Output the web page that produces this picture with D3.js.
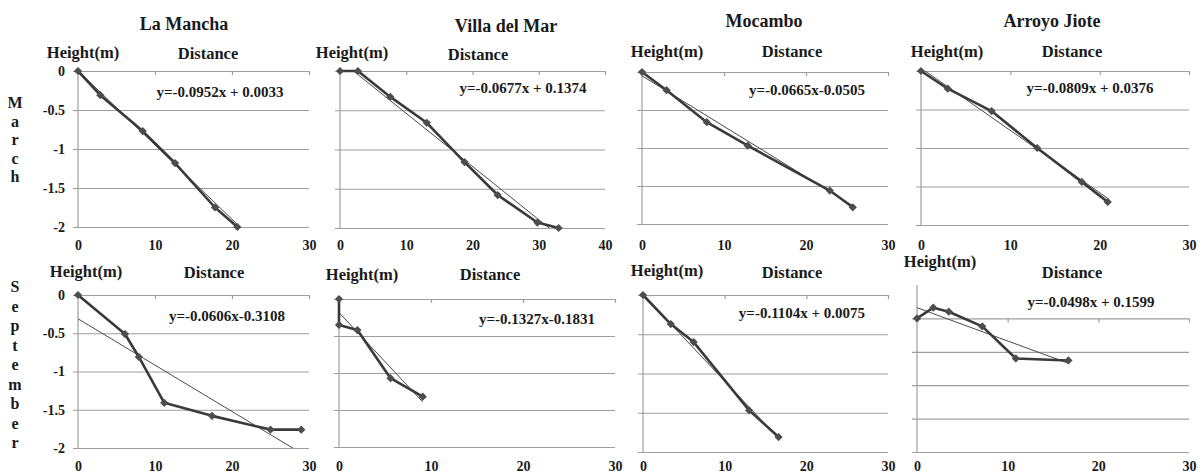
<!DOCTYPE html>
<html>
<head>
<meta charset="utf-8">
<script src="https://cdn.jsdelivr.net/npm/d3@7"></script>
<style>
body { margin: 0; background: #fff; }
svg text { font-family: "Liberation Serif", "Times New Roman", serif !important; font-weight: bold; fill: #1a1a1a; }
</style>
</head>
<body>
<svg id="chart" width="1204" height="476"></svg>
<script>
/******************************** Data ********************************/
var sites = ["La Mancha", "Villa del Mar", "Mocambo", "Arroyo Jiote"];
var months = ["March", "September"];
var yTicks = [0, -0.5, -1, -1.5, -2];
var xMaxMarch = [30, 40, 30, 30];
var xMaxSept = [30, 30, 30, 30];
var yMaxMarch = [0, 0, 0, 0];
var yMaxSept = [0, 0, 0, 0.5];

var marchDist = [
	[0, 2.9, 8.4, 12.6, 17.8, 20.7],
	[0, 2.7, 7.6, 13.1, 18.8, 23.8, 29.8, 33],
	[0, 3.0, 7.9, 12.9, 22.9, 25.7],
	[0, 3.0, 7.9, 13.0, 18.0, 20.9]
];
var marchHeight = [
	[0, -0.31, -0.77, -1.18, -1.75, -2.0],
	[0, 0, -0.33, -0.66, -1.16, -1.58, -1.93, -2.0],
	[0, -0.24, -0.66, -0.97, -1.56, -1.78],
	[0, -0.23, -0.52, -1.0, -1.44, -1.70]
];
var marchFit = [[-0.0952, 0.0033], [-0.0677, 0.1374], [-0.0665, -0.0505], [-0.0809, 0.0376]];

var septDist = [
	[0, 6.1, 7.9, 11.2, 17.4, 25, 29],
	[0, 0, 2.0, 5.6, 9.1],
	[0, 3.4, 6.2, 13.0, 16.6],
	[0, 1.8, 3.5, 7.2, 10.9, 16.7]
];
var septHeight = [
	[0, -0.51, -0.81, -1.41, -1.58, -1.76, -1.76],
	[0, -0.35, -0.42, -1.07, -1.32],
	[0, -0.37, -0.6, -1.47, -1.81],
	[0, 0.16, 0.10, -0.12, -0.6, -0.63]
];
var septFit = [[-0.0606, -0.3108], [-0.1327, -0.1831], [-0.1104, 0.0075], [-0.0498, 0.1599]];

/******************************** Layout ********************************/
// plot areas, left to right, March row then September row
var frames = [
	{l: 78, r: 309, t: 71, b: 227},
	{l: 340, r: 605, t: 71, b: 228},
	{l: 642, r: 888, t: 72, b: 224},
	{l: 921, r: 1189, t: 71, b: 225},
	{l: 78, r: 309, t: 295, b: 448},
	{l: 339, r: 615, t: 299, b: 447},
	{l: 643, r: 888, t: 295, b: 452},
	{l: 917, r: 1189, t: 285, b: 452}
];
// text anchors: [heightX, heightY, distX, distY, eqX, eqY]
var labelPos = [
	[83, 58, 208, 59, 220, 97],
	[352, 58, 478, 60, 523, 93],
	[667, 57, 792, 57, 807, 95],
	[947, 57, 1072, 57, 1090, 93],
	[86, 277, 214, 278, 227, 321],
	[362, 280, 490, 280, 537, 324],
	[667, 276, 792, 278, 802, 318],
	[940, 267, 1072, 278, 1091, 307]
];
var titlePos = [[184, 30], [506, 32], [764, 27], [1052, 27]];
var xLabelTop = [240, 461];

var svg = d3.select("#chart");
var gridColor = "#9e9e9e";
var serif = "'Liberation Serif', 'Times New Roman', serif";

function fmtEq(f) {
	var b = f[1];
	return "y=" + f[0].toFixed(4) + "x" + (b >= 0 ? " + " + b.toFixed(4) : "-" + Math.abs(b).toFixed(4));
}

/******************************** Panels ********************************/
frames.forEach(function(fr, i) {
	var row = i < 4 ? 0 : 1, col = i % 4;
	var xs = row ? septDist[col] : marchDist[col];
	var ys = row ? septHeight[col] : marchHeight[col];
	var fit = row ? septFit[col] : marchFit[col];
	var xMax = row ? xMaxSept[col] : xMaxMarch[col];
	var yMax = row ? yMaxSept[col] : yMaxMarch[col];

	var x = d3.scaleLinear().domain([0, xMax]).range([fr.l, fr.r]);
	var y = d3.scaleLinear().domain([-2, yMax]).range([fr.b, fr.t]);
	var g = svg.append("g");

	// gridlines
	var grid = g.append("g")
		.attr("transform", "translate(" + (fr.l - 5) + ",0)")
		.call(d3.axisLeft(y).tickValues(yTicks).tickSize(-(fr.r - fr.l + 5)).tickFormat(""));
	grid.select(".domain").remove();
	grid.selectAll("line").attr("stroke", gridColor).attr("stroke-width", 1.2);

	// y axis line
	g.append("line")
		.attr("x1", fr.l).attr("x2", fr.l)
		.attr("y1", fr.t).attr("y2", fr.b)
		.attr("stroke", gridColor).attr("stroke-width", 1.2);

	// x axis tick marks along the zero line
	var xt = g.append("g")
		.attr("transform", "translate(0," + y(0) + ")")
		.call(d3.axisBottom(x).tickValues(d3.range(10, xMax + 1, 10)).tickSize(4).tickFormat(""));
	xt.select(".domain").remove();
	xt.selectAll("line").attr("stroke", gridColor).attr("stroke-width", 1.2);

	// x labels
	var xl = g.append("g")
		.attr("transform", "translate(0," + xLabelTop[row] + ")")
		.call(d3.axisBottom(x).ticks(xMax / 10).tickSize(0).tickPadding(0).tickFormat(function(d) { return String(d); }));
	xl.select(".domain").remove();
	xl.attr("font-family", serif).attr("font-size", 14);

	// y labels on first column
	if (col === 0) {
		var yl = g.append("g")
			.attr("transform", "translate(65,0)")
			.call(d3.axisLeft(y).tickValues(yTicks).tickSize(0).tickPadding(0).tickFormat(function(d) { return String(d); }));
		yl.select(".domain").remove();
		yl.attr("font-family", serif).attr("font-size", 14);
	}

	// trend line (clipped to plot)
	var clipId = "clip" + i;
	g.append("clipPath").attr("id", clipId)
		.append("rect").attr("x", fr.l).attr("y", fr.t).attr("width", fr.r - fr.l).attr("height", fr.b - fr.t);
	var x0 = d3.min(xs), x1 = d3.max(xs);
	g.append("line")
		.attr("clip-path", "url(#" + clipId + ")")
		.attr("x1", x(x0)).attr("y1", y(fit[0] * x0 + fit[1]))
		.attr("x2", x(x1)).attr("y2", y(fit[0] * x1 + fit[1]))
		.attr("stroke", "#4a4a4a").attr("stroke-width", 1);

	// data line
	var pts = xs.map(function(d, k) { return [d, ys[k]]; });
	g.append("path")
		.datum(pts)
		.attr("fill", "none")
		.attr("stroke", "#3a3a3a")
		.attr("stroke-width", 2.6)
		.attr("stroke-linejoin", "round")
		.attr("d", d3.line().x(function(d) { return x(d[0]); }).y(function(d) { return y(d[1]); }));

	// markers
	g.selectAll(".mk").data(pts).enter().append("path")
		.attr("class", "mk")
		.attr("d", d3.symbol().type(d3.symbolSquare).size(34))
		.attr("transform", function(d) { return "translate(" + x(d[0]) + "," + y(d[1]) + ") rotate(45)"; })
		.attr("fill", "#4d4d4d");

	// labels
	var lp = labelPos[i];
	g.append("text").attr("x", lp[0]).attr("y", lp[1]).attr("text-anchor", "middle")
		.attr("font-family", serif).attr("font-size", 16.5).text("Height(m)");
	g.append("text").attr("x", lp[2]).attr("y", lp[3]).attr("text-anchor", "middle")
		.attr("font-family", serif).attr("font-size", 16.5).text("Distance");
	g.append("text").attr("x", lp[4]).attr("y", lp[5]).attr("text-anchor", "middle")
		.attr("font-family", serif).attr("font-size", 15).text(fmtEq(fit));
});

/******************************** Titles ********************************/
sites.forEach(function(s, k) {
	svg.append("text")
		.attr("x", titlePos[k][0]).attr("y", titlePos[k][1])
		.attr("text-anchor", "middle").attr("font-family", serif).attr("font-size", 18)
		.text(s);
});

// month names, stacked letters
var monthTop = [108, 292], monthStep = [18.6, 19.5];
months.forEach(function(m, r) {
	svg.append("g").selectAll("text").data(m.split("")).enter().append("text")
		.attr("x", 15)
		.attr("y", function(d, k) { return monthTop[r] + k * monthStep[r]; })
		.attr("text-anchor", "middle").attr("font-family", serif).attr("font-size", 16)
		.text(function(d) { return d; });
});
</script>
</body>
</html>
